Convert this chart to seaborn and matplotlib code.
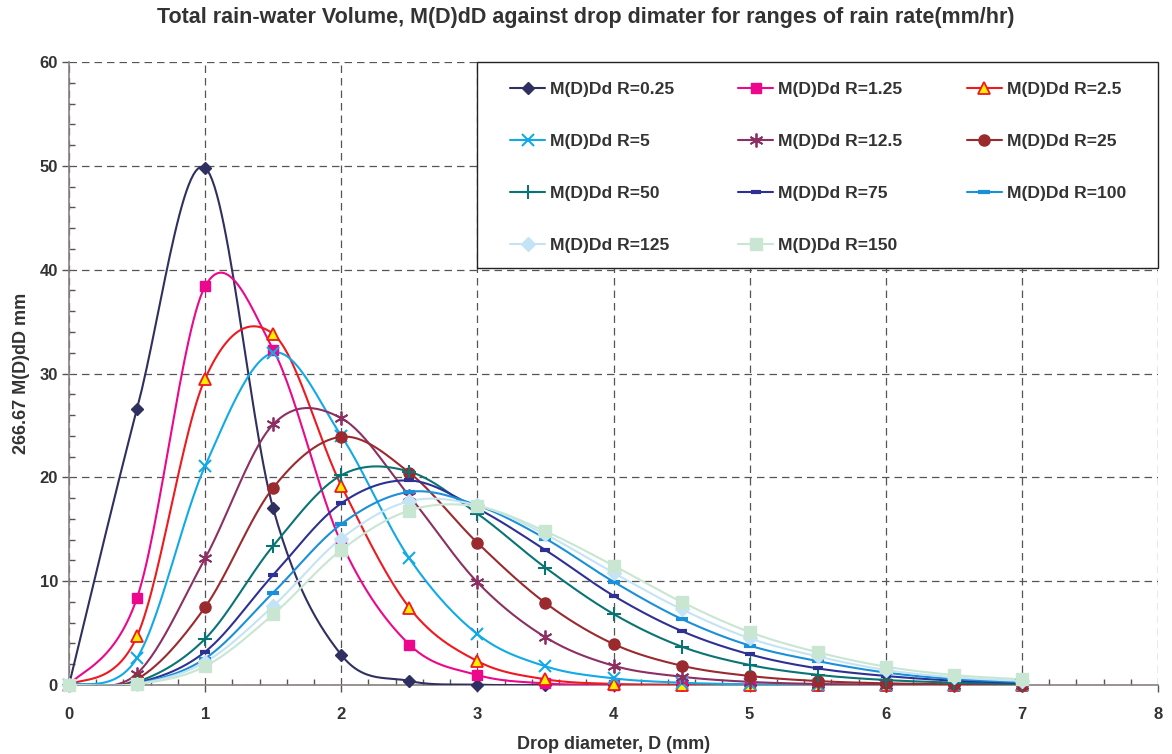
import numpy as np
import pandas as pd
import matplotlib
matplotlib.use("Agg")
import matplotlib.pyplot as plt
from matplotlib.lines import Line2D
from matplotlib.patches import Rectangle
from matplotlib.ticker import MultipleLocator
import seaborn as sns

# ---------------- data ----------------
diameter = [0, 0.5, 1, 1.5, 2, 2.5, 3, 3.5, 4, 4.5, 5, 5.5, 6, 6.5, 7]
labels = ["M(D)Dd R=0.25", "M(D)Dd R=1.25", "M(D)Dd R=2.5", "M(D)Dd R=5",
          "M(D)Dd R=12.5", "M(D)Dd R=25", "M(D)Dd R=50", "M(D)Dd R=75",
          "M(D)Dd R=100", "M(D)Dd R=125", "M(D)Dd R=150"]
r0_25 = [0, 26.6, 49.8, 17.0, 2.9, 0.39, 0.03, 0, 0, 0, 0, 0, 0, 0, 0]
r1_25 = [0, 8.4, 38.4, 32.3, 13.7, 3.9, 0.96, 0.15, 0.02, 0, 0, 0, 0, 0, 0]
r2_5 = [0, 4.7, 29.5, 33.8, 19.2, 7.45, 2.3, 0.55, 0.1, 0.02, 0, 0, 0, 0, 0]
r5 = [0, 2.6, 21.1, 32.0, 24.0, 12.2, 4.9, 1.8, 0.64, 0.22, 0.07, 0.02, 0, 0, 0]
r12_5 = [0, 1.1, 12.2, 25.1, 25.7, 18.2, 9.9, 4.6, 1.86, 0.8, 0.3, 0.1, 0.03, 0.01, 0]
r25 = [0, 0.56, 7.5, 19.0, 23.9, 20.45, 13.7, 7.9, 3.95, 1.86, 0.87, 0.38, 0.16, 0.07, 0.03]
r50 = [0, 0.3, 4.45, 13.4, 20.2, 20.55, 16.5, 11.3, 6.84, 3.7, 1.93, 0.98, 0.48, 0.23, 0.1]
r75 = [0, 0.2, 3.2, 10.6, 17.5, 19.7, 17.0, 13.0, 8.6, 5.2, 2.95, 1.6, 0.87, 0.42, 0.2]
r100 = [0, 0.15, 2.55, 8.9, 15.5, 18.6, 17.3, 14.1, 9.95, 6.36, 3.8, 2.3, 1.2, 0.58, 0.29]
r125 = [0, 0.1, 2.2, 7.6, 14.1, 17.7, 17.3, 14.5, 10.8, 7.3, 4.5, 2.75, 1.45, 0.74, 0.39]
r150 = [0, 0.08, 1.8, 6.8, 13.0, 16.8, 17.2, 14.8, 11.5, 8.0, 5.1, 3.15, 1.77, 0.96, 0.55]
series = [r0_25, r1_25, r2_5, r5, r12_5, r25, r50, r75, r100, r125, r150]
x_ticks = [0, 1, 2, 3, 4, 5, 6, 7, 8]
y_ticks = [0, 10, 20, 30, 40, 50, 60]

# ---------------- styles ----------------
colors = ["#2f2f62", "#ec078c", "#f0191e", "#12aae6", "#8c2f62", "#9a2a2e",
          "#0a7474", "#2e3192", "#1a90d8", "#c4e4f5", "#c8e6d2"]
markers = ["D", "s", "^", "x", (6, 2, 0), "o", "+", "_", "_", "D", "s"]
msizes = [6, 7, 8, 9, 10, 8, 10, 7, 9, 7, 9]
mfaces = [None, None, "#ffee00", None, None, None, None, None, None, None, None]
mews = [1, 1, 1.3, 1.5, 1.3, 1, 1.5, 3, 3, 1, 1]

sns.set_theme(style="white")
plt.rcParams["font.family"] = ["Liberation Sans", "DejaVu Sans"]
text_col = "#333333"


def smooth(xs, ys, n=30):
    """Excel-like smoothed line (Catmull-Rom Bezier) through the data points."""
    p = np.column_stack([xs, ys]).astype(float)
    p_ext = np.vstack([p[0], p, p[-1]])
    out = []
    t = np.linspace(0, 1, n)[:, None]
    for i in range(len(p) - 1):
        p0, p1, p2, p3 = p_ext[i], p_ext[i + 1], p_ext[i + 2], p_ext[i + 3]
        c1 = p1 + (p2 - p0) / 6.0
        c2 = p2 - (p3 - p1) / 6.0
        seg = ((1 - t) ** 3) * p1 + 3 * ((1 - t) ** 2) * t * c1 + 3 * (1 - t) * t ** 2 * c2 + t ** 3 * p2
        out.append(seg if i == 0 else seg[1:])
    out = np.vstack(out)
    return out[:, 0], out[:, 1]


fig = plt.figure(figsize=(11.72, 7.54), dpi=100)
ax = fig.add_axes([69 / 1172, 1 - 685 / 754, (1158 - 69) / 1172, (685 - 62) / 754])

handles = []
for i, (lab, ys) in enumerate(zip(labels, series)):
    sx, sy = smooth(diameter, ys)
    df_line = pd.DataFrame({"D": sx, "V": sy})
    sns.lineplot(data=df_line, x="D", y="V", ax=ax, color=colors[i], lw=1.5,
                 sort=False, estimator=None, zorder=3 + i * 0.01)
    mfc = mfaces[i] if mfaces[i] else colors[i]
    ax.plot(diameter, ys, ls="none", marker=markers[i], ms=msizes[i],
            mfc=mfc, mec=colors[i], mew=mews[i], zorder=4 + i * 0.01, clip_on=False)
    handles.append(Line2D([0], [0], color=colors[i], lw=1.5, marker=markers[i],
                          ms=msizes[i], mfc=mfc, mec=colors[i], mew=mews[i]))

ax.set_xlim(0, 8)
ax.set_ylim(0, 60)
ax.set_xticks(x_ticks)
ax.set_yticks(y_ticks)
ax.xaxis.set_minor_locator(MultipleLocator(0.2))
ax.yaxis.set_minor_locator(MultipleLocator(2))
ax.grid(True, which="major", color="#555555", ls=(0, (6, 4)), lw=0.9, zorder=0)
for s in ["top", "right"]:
    ax.spines[s].set_visible(False)
for s in ["left", "bottom"]:
    ax.spines[s].set_color("#8a7f7f")
    ax.spines[s].set_linewidth(1.2)
ax.tick_params(axis="both", which="major", direction="out", length=5, width=1,
               color="#555555", labelsize=12, labelcolor=text_col)
ax.tick_params(axis="x", which="major", pad=11)
ax.tick_params(axis="y", which="major", pad=3)
ax.tick_params(axis="both", which="minor", direction="in", length=4, width=1,
               color="#555555")
ax.tick_params(axis="x", which="both", bottom=True)
ax.tick_params(axis="y", which="both", left=True)
for lbl in ax.get_xticklabels() + ax.get_yticklabels():
    lbl.set_fontweight("bold")

ax.set_xlabel("Drop diameter, D (mm)", fontsize=13, fontweight="bold", color=text_col, labelpad=10)
ax.set_ylabel("266.67 M(D)dD mm", fontsize=13, fontweight="bold", color=text_col, labelpad=7)
fig.text(586 / 1172, 1 - 18 / 754,
         "Total rain-water Volume, M(D)dD against drop dimater for ranges of rain rate(mm/hr)",
         ha="center", va="center", fontsize=15.5, fontweight="bold", color=text_col)

# legend frame (drawn separately) and legend entries filled row by row
frame = Rectangle(((477 - 69) / 1089, (685 - 268) / 623), (1158 - 477) / 1089, 206 / 623,
                  transform=ax.transAxes, facecolor="white", edgecolor="#222222",
                  lw=1.0, zorder=9, clip_on=False)
ax.add_patch(frame)
order = [0, 3, 6, 9, 1, 4, 7, 10, 2, 5, 8]
leg = ax.legend([handles[k] for k in order], [labels[k] for k in order], ncol=3,
                loc="upper left",
                bbox_to_anchor=((510 - 69) / 1089, (685 - 82) / 623, 616 / 1089, 0.0),
                mode="expand", borderaxespad=0, frameon=False,
                prop={"weight": "bold", "size": 12.6}, labelspacing=2.09,
                borderpad=0, handlelength=2.0, handletextpad=0.3,
                columnspacing=1.0)
leg.set_zorder(10)
for t in leg.get_texts():
    t.set_color(text_col)

fig.savefig("out.png", dpi=100, facecolor="white")
